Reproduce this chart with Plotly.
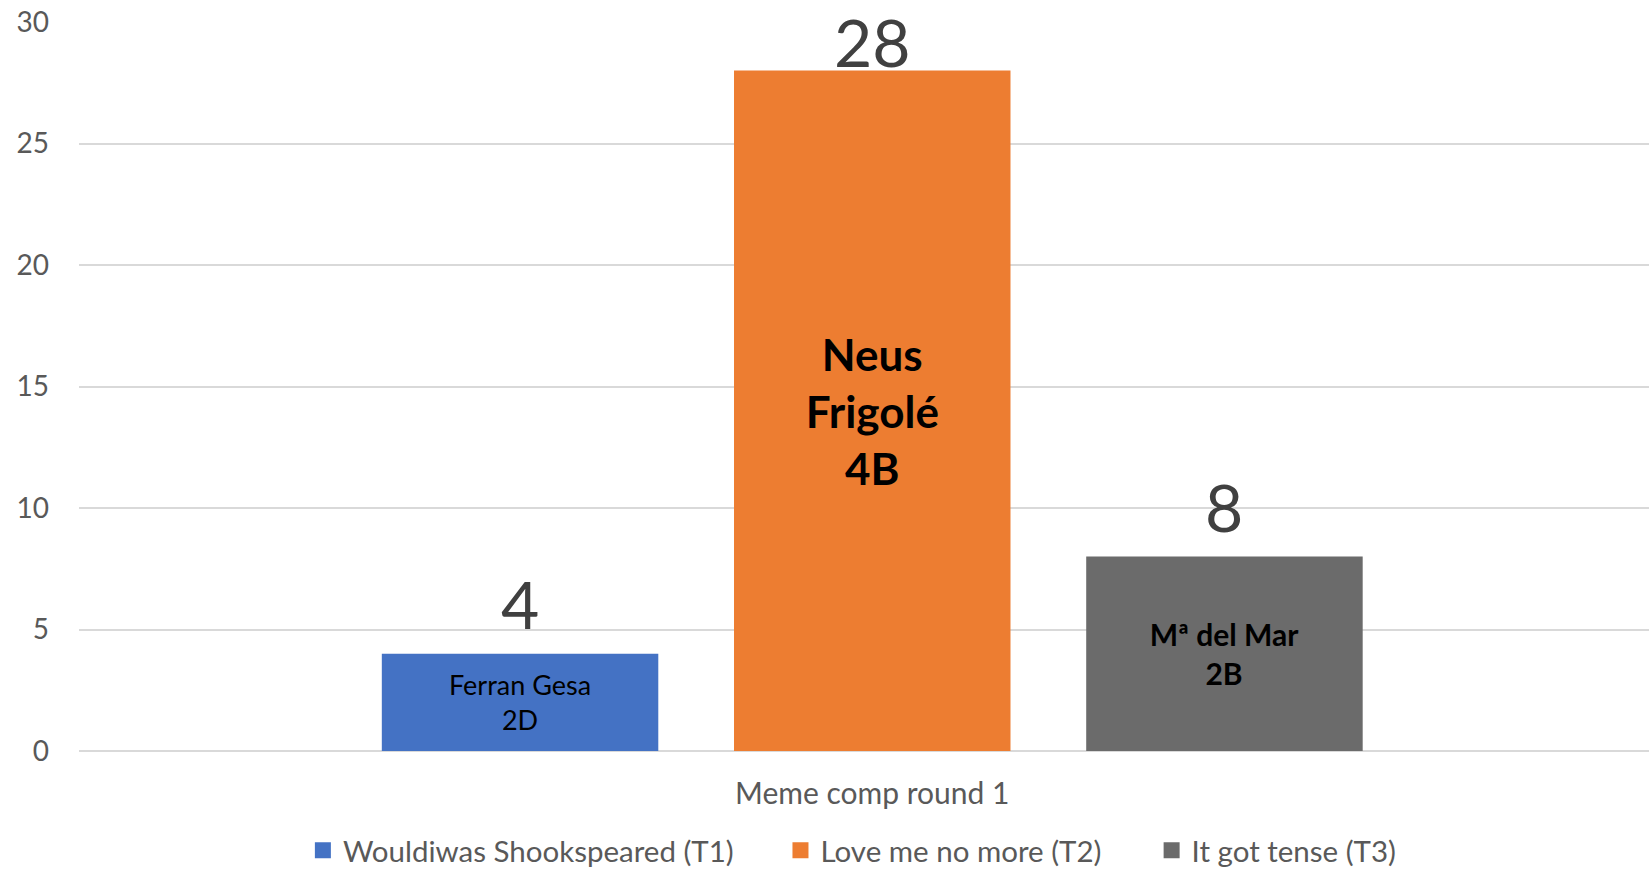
import plotly.graph_objects as go

# ---- data ----
category = ["Meme comp round 1"]
teams = ["Wouldiwas Shookspeared (T1)", "Love me no more (T2)", "It got tense (T3)"]
votes = [4, 28, 8]
winners = ["Ferran Gesa<br>2D", "Neus<br>Frigolé<br>4B", "Mª del Mar<br>2B"]
y_ticks = [0, 5, 10, 15, 20, 25, 30]

# ---- style ----
colors = ["#4472C4", "#ED7D31", "#6B6B6B"]
name_sizes = [27, 44, 30]
name_weights = ["normal", "bold", "bold"]
legend_x = [0.1426, 0.4468, 0.6832]   # left edge of each legend entry (paper)
FONT = "Lato"
BARGAP = 0.334
BARGROUPGAP = 0.215
YMAX = 30

fig = go.Figure()
for i, team in enumerate(teams):
    fig.add_trace(go.Bar(
        x=category, y=[votes[i]], name=team,
        text=[winners[i]], textposition="inside", insidetextanchor="middle",
        constraintext="none",
        insidetextfont=dict(family=FONT, size=name_sizes[i], color="black",
                            weight=name_weights[i]),
        marker=dict(color=colors[i], line=dict(width=0)),
        showlegend=False, hoverinfo="skip",
    ))

legend_ids = ["legend", "legend2", "legend3"]
for i, team in enumerate(teams):
    fig.add_trace(go.Scatter(
        x=[None], y=[None], mode="markers", name=team,
        marker=dict(symbol="square", size=16, color=colors[i]),
        hoverinfo="skip", legend=legend_ids[i], showlegend=True,
    ))

# value labels above bars
slot = (1 - BARGAP) / len(teams)
for i, v in enumerate(votes):
    xpos = (i - (len(teams) - 1) / 2) * slot
    ypos = min(v + 2.05, YMAX - 0.8)
    fig.add_annotation(x=xpos, y=ypos, xref="x", yref="y", text=str(v),
                       showarrow=False, yanchor="middle",
                       font=dict(family=FONT, size=66, color="#404040"))

legend_style = dict(orientation="h", xanchor="left", y=-0.1365, yanchor="middle",
                    font=dict(family=FONT, size=29.5, color="#595959"),
                    bgcolor="rgba(0,0,0,0)", itemclick=False, itemdoubleclick=False)

fig.update_layout(
    width=1649, height=870,
    margin=dict(l=79, r=0, t=22, b=119, pad=0, autoexpand=False),
    paper_bgcolor="white", plot_bgcolor="white",
    barmode="group", bargap=BARGAP, bargroupgap=BARGROUPGAP,
    font=dict(family=FONT, color="#595959"),
    xaxis=dict(type="category", range=[-0.5, 0.4896], showgrid=False,
               zeroline=False, showline=False, ticks="",
               tickfont=dict(family=FONT, size=30, color="#595959"),
               ticklabelstandoff=22, fixedrange=True, automargin=False),
    yaxis=dict(range=[0, YMAX], tickvals=y_ticks, showgrid=True,
               gridcolor="#D9D9D9", gridwidth=2, zeroline=True,
               zerolinecolor="#D9D9D9", zerolinewidth=2, showline=False,
               ticks="", tickfont=dict(family=FONT, size=28, color="#595959"),
               ticklabelstandoff=29, fixedrange=True, automargin=False),
    legend=dict(x=legend_x[0], **legend_style),
    legend2=dict(x=legend_x[1], **legend_style),
    legend3=dict(x=legend_x[2], **legend_style),
    showlegend=True,
)

fig.write_html("out.html", config={"displayModeBar": False},
               post_script="document.body.style.margin='0';document.body.style.overflow='hidden';")
